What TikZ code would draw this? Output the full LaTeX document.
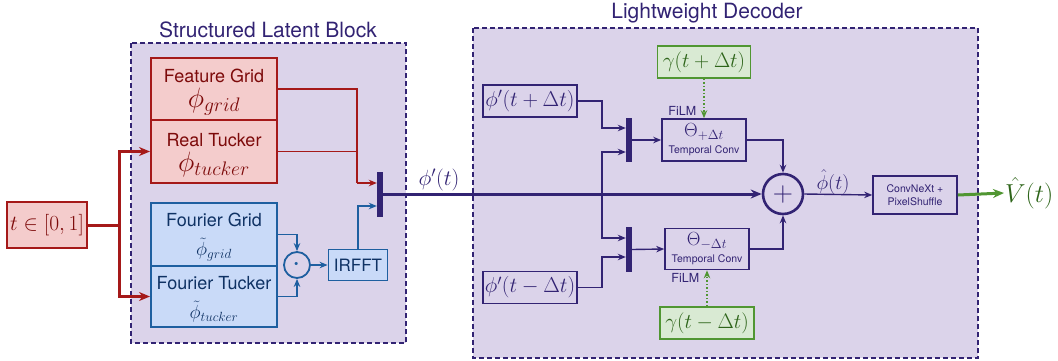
\RequirePackage{fix-cm}
\documentclass[tikz,border=0pt]{standalone}
\usepackage{fontspec}
\setsansfont{TeX Gyre Heros}
\usetikzlibrary{arrows.meta,calc,positioning}

\definecolor{lav}{RGB}{219,211,234}
\definecolor{purpD}{RGB}{50,35,115}
\definecolor{redB}{RGB}{165,25,25}
\definecolor{redF}{RGB}{244,204,204}
\definecolor{redT}{RGB}{125,10,10}
\definecolor{bluB}{RGB}{30,95,160}
\definecolor{bluF}{RGB}{201,218,248}
\definecolor{bluT}{RGB}{15,50,100}
\definecolor{grnB}{RGB}{80,150,50}
\definecolor{grnF}{RGB}{217,234,211}
\definecolor{grnT}{RGB}{45,100,25}
\newcommand{\fsize}[2]{\fontsize{#1}{#2}\selectfont}

\begin{document}
\begin{tikzpicture}[x=1pt, y=-1pt, >={Stealth[length=8pt,width=6.5pt]},
        latentbg/.style={draw=purpD, fill=lav, line width=1.2pt, dash pattern=on 5pt off 3pt},
        blocktitle/.style={text=purpD, font=\sffamily\fsize{21}{24}},
        redbox/.style={draw=redB, fill=redF, text=redT, line width=2pt, inner sep=0pt,
            minimum width=126pt, minimum height=62pt, align=center, font=\sffamily\fsize{18}{21}},
        bluebox/.style={redbox, draw=bluB, fill=bluF, text=bluT},
        greenbox/.style={draw=grnB, fill=grnF, text=grnT, line width=1.8pt, inner sep=0pt,
            minimum width=93pt, minimum height=32pt, font=\fsize{21}{23}},
        purpbox/.style={draw=purpD, text=purpD, line width=1.6pt, inner sep=0pt, align=center},
        catbar/.style={fill=purpD, inner sep=0pt, minimum width=6pt, minimum height=45pt},
        redline/.style={draw=redB, line width=1.4pt},
        redthick/.style={draw=redB, line width=3pt, >={Stealth[length=11pt,width=9pt]}},
        blueline/.style={draw=bluB, line width=1.4pt},
        purpline/.style={draw=purpD, line width=1.4pt},
        mainline/.style={draw=purpD, line width=3pt, >={Stealth[length=11pt,width=9pt]}},
        filmline/.style={draw=grnB, line width=1.5pt, dotted, >={Stealth[length=8pt,width=6.5pt]}},
        filmlbl/.style={text=purpD, font=\sffamily\fsize{12.5}{14}, inner sep=0pt},
        mathlbl/.style={text=purpD, inner sep=0pt}]
    \useasboundingbox (0,0) rectangle (1058,360);

    % structured latent block
    \draw[latentbg] (131,43) rectangle (406,343);
    \node[blocktitle] (ttlL) at (268,30) {Structured Latent Block};
    \node[redbox, minimum width=80pt, minimum height=46pt, font=\fsize{21.5}{24}] (tin) at (47,225) {$t\in[0,1]$};
    \node[redbox] (fgrid) at (214,89) {\rule{0pt}{20pt}Feature Grid\\[4pt]{\fsize{28}{30}$\phi_{grid}$}};
    \node[redbox, minimum height=63pt, below=-2pt of fgrid] (rtuck) {\rule{0pt}{20pt}Real Tucker\\[4pt]{\fsize{28}{30}$\phi_{tucker}$}};
    \node[bluebox, minimum height=63pt] (fourg) at (214,234.5) {\rule{0pt}{19pt}Fourier Grid\\[8pt]{\fsize{19}{24}$\tilde{\phi}_{grid}$}};
    \node[bluebox, minimum height=61pt, below=-2pt of fourg] (fourt) {\rule{0pt}{19pt}Fourier Tucker\\[8pt]{\fsize{19}{24}$\tilde{\phi}_{tucker}$}};
    \node[circle, draw=bluB, line width=1.8pt, minimum size=26pt, inner sep=0pt, text=bluB, font=\fsize{30}{30}] (odot) at (297,265) {$\cdot$};
    \node[purpbox, draw=bluB, fill=bluF, text=bluT, line width=1.8pt, minimum width=59pt, minimum height=31pt, font=\sffamily\fsize{17}{19}] (irfft) at (358,265) {IRFFT};
    \node[catbar] (bar1) at (380,194) {};

    \draw[redthick, ->] (tin.east) -- ++(31,0) coordinate (tsplit) |- (rtuck.west);
    \draw[redthick, ->] (tsplit) |- (fourt.west);
    \coordinate (rjoin) at (357,183);
    \draw[redline] (fgrid.east) -| (rjoin);
    \draw[redline] (rtuck.east) -- (rtuck.east -| rjoin);
    \draw[redline, ->] (rjoin) -- (rjoin -| bar1.west);
    \draw[blueline, ->] (fourg.east) -| (odot.north);
    \draw[blueline, ->] (fourt.east) -| (odot.south);
    \draw[blueline, ->] (odot.east) -- (irfft.west);
    \draw[blueline, ->] (irfft.north) |- ($(bar1.west)+(0,12)$);

    % lightweight decoder
    \draw[latentbg] (473,28) rectangle (978,358);
    \node[blocktitle] (ttlR) at (707,13) {Lightweight Decoder};
    \node[purpbox, minimum width=94pt, minimum height=32pt, font=\fsize{21.5}{24}] (phip) at (530,101) {$\phi'(t+\Delta t)$};
    \node[purpbox, minimum width=94pt, minimum height=32pt, font=\fsize{21.5}{24}] (phim) at (530,287.5) {$\phi'(t-\Delta t)$};
    \node[catbar, minimum height=44pt] (barU) at (629,140) {};
    \node[catbar] (barD) at (629,249.5) {};
    \node[purpbox, minimum width=84pt, minimum height=42pt, font=\fsize{19}{20}] (thetaP) at (704,140)
        {$\Theta_{+\Delta t}$\\[-3pt]{\sffamily\fsize{10.5}{12}Temporal Conv}};
    \node[purpbox, minimum width=84pt, minimum height=41pt, font=\fsize{19}{20}] (thetaM) at (707,249)
        {$\Theta_{-\Delta t}$\\[-3pt]{\sffamily\fsize{10.5}{12}Temporal Conv}};
    \node[greenbox] (gamP) at (704,62) {$\gamma(t+\Delta t)$};
    \node[greenbox, minimum width=94pt] (gamM) at (707,323) {$\gamma(t-\Delta t)$};
    \node[circle, draw=purpD, line width=2.6pt, minimum size=40pt, inner sep=0pt, text=purpD, font=\fsize{28}{28}] (plus) at (783,194) {$+$};
    \node[purpbox, minimum width=84pt, minimum height=38pt, font=\sffamily\fsize{10.5}{13}] (conv) at (915,195) {ConvNeXt +\\PixelShuffle};
    \node[anchor=west, inner sep=1pt, text=grnT, font=\fsize{26}{28}] (vout) at (1004,193) {$\hat{V}(t)$};

    \draw[mainline, ->] (bar1.east) -- (plus.west);
    \node[mathlbl, font=\fsize{22}{24}] (lblphi) at (439,180) {$\phi'(t)$};
    \coordinate (split) at (602,194);
    \draw[purpline, ->] (split) |- ($(barU.west)+(0,12)$);
    \draw[purpline, ->] (split) |- ($(barD.west)+(0,-11.5)$);
    \draw[purpline, ->] (phip.east) -- (phip.east -| split) |- ($(barU.west)+(0,-12)$);
    \draw[purpline, ->] (phim.east) -- (phim.east -| split) |- ($(barD.west)+(0,7.5)$);
    \draw[purpline, ->] (barU.east) -- (thetaP.west);
    \draw[purpline, ->] (barD.east) -- (thetaM.west);
    \draw[purpline, ->] (thetaP.east) -| (plus.north);
    \draw[purpline, ->] (thetaM.east) -| (plus.south);
    \draw[filmline, ->] (gamP.south) -- (thetaP.north)
        node[filmlbl, anchor=south east, xshift=-7pt, yshift=2pt] (filmP) {FiLM};
    \draw[filmline, ->] (gamM.north) -- (thetaM.south)
        node[filmlbl, anchor=north east, xshift=-7pt, yshift=-2pt] (filmM) {FiLM};
    \draw[purpline, ->] (plus.east) -- (conv.west);
    \node[mathlbl, font=\fsize{20}{22}] (lblhat) at (833,182) {$\hat{\phi}(t)$};
    \draw[draw=grnB, line width=3pt, ->, >={Stealth[length=11pt,width=9pt]}] (conv.east) -- (vout.west);
\end{tikzpicture}
\end{document}
